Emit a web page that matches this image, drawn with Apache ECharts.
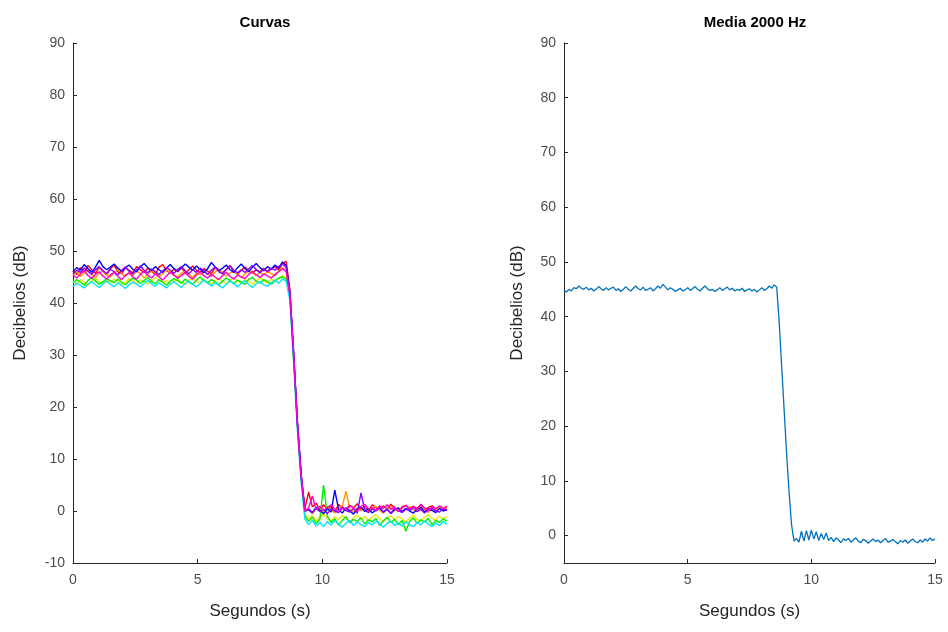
<!DOCTYPE html>
<html><head><meta charset="utf-8">
<script src="https://cdn.jsdelivr.net/npm/echarts@6/dist/echarts.min.js"></script>
<style>html,body{margin:0;padding:0;background:#fff}#c{width:948px;height:632px}</style>
</head><body><div id="c"></div>
<script>
// Sample spacing (s) of the recordings
const dtCurvas = 0.15;
const dtMedia = 0.1;

const xTicks = [0, 5, 10, 15];
const yTicksLeft = [-10, 0, 10, 20, 30, 40, 50, 60, 70, 80, 90];
const yTicksRight = [0, 10, 20, 30, 40, 50, 60, 70, 80, 90];

const curvaRed = [46.2,45.5,46.8,45.9,47.2,46.4,45.7,46.9,46.1,45.4,46.6,47.3,46.0,45.6,46.8,46.3,45.8,47.0,46.4,45.9,46.7,46.1,45.5,46.9,47.4,46.2,45.8,46.5,46.0,46.8,45.7,46.4,47.1,46.3,45.9,46.6,46.1,45.6,46.9,46.4,45.8,46.5,47.2,46.0,45.6,46.3,46.9,46.2,45.7,46.4,46.0,46.7,45.9,46.5,47.0,46.3,47.6,48.0,
42.5,30.0,17.5,7.0,0.5,
3.6,0.8,1.5,0.2,1.2,0.4,0.9,-0.2,1.3,0.5,0.1,1.1,0.6,1.4,0.3,0.9,0.0,1.2,0.7,0.2,1.0,0.4,1.3,0.6,-0.1,0.8,1.1,0.3,0.9,0.5,1.2,0.2,0.7,1.0,0.4,0.8,0.3,0.9];
const curvaOrange = [45.3,46.0,45.1,45.8,46.3,45.5,44.9,45.7,46.2,45.4,45.0,45.9,46.4,45.6,45.2,45.8,45.3,46.1,45.7,44.8,45.5,46.2,45.8,45.1,45.6,46.4,45.9,45.3,45.0,45.7,46.3,45.5,44.9,45.8,45.4,46.0,45.6,45.1,45.9,46.5,45.7,45.2,45.8,46.1,45.5,44.9,45.6,46.2,45.8,45.3,45.9,45.4,46.0,45.7,45.2,46.1,46.8,46.3,
41.5,29.5,16.5,6.5,0.0,
0.3,-0.5,0.6,0.1,-0.3,0.8,0.2,-0.4,0.5,0.9,3.8,0.4,-0.2,0.6,0.0,0.7,-0.3,0.4,0.9,0.1,-0.4,0.5,0.8,0.0,0.6,-0.2,0.3,0.9,0.2,-0.1,0.7,0.4,-0.3,0.5,0.1,0.8,0.3,0.6];
const curvaYellow = [44.2,43.6,44.5,44.0,43.4,44.3,44.8,44.1,43.7,44.4,43.9,44.6,44.2,43.5,44.0,44.7,44.3,43.8,44.5,44.1,43.6,44.2,44.9,44.4,43.9,44.3,43.7,44.1,44.6,44.0,43.5,44.4,44.8,44.2,43.8,44.5,44.0,43.6,44.3,44.7,44.1,43.7,44.4,44.9,44.2,43.8,44.5,44.1,43.6,44.3,44.8,44.2,43.9,44.6,44.1,44.7,45.3,44.8,
41.0,29.0,16.0,6.0,-0.5,
-1.6,-0.8,-1.9,-1.2,-0.6,-1.5,-2.0,-1.1,-1.7,-0.9,-1.4,-2.1,-1.3,-0.8,-1.6,-1.0,-1.8,-1.2,-0.7,-1.5,-2.0,-1.3,-0.9,-1.7,-1.1,-1.5,-2.2,-1.4,-0.8,-1.6,-1.9,-1.2,-0.7,-1.4,-1.8,-1.0,-1.5,-1.1];
const curvaGreen = [43.8,44.5,44.0,43.4,44.3,44.9,44.2,43.6,44.1,44.7,44.3,43.9,44.6,44.0,43.5,44.2,44.8,44.4,43.8,44.3,44.9,44.1,43.7,44.5,44.0,43.4,44.2,44.7,44.3,43.8,44.6,44.0,43.6,44.4,45.0,44.3,43.9,44.5,44.1,43.5,44.2,44.8,44.3,43.7,44.4,44.0,43.6,44.6,44.9,44.2,43.8,44.5,44.1,43.6,44.3,44.8,45.0,44.6,
41.0,29.0,16.5,6.5,-1.0,
-2.0,-1.2,-2.4,-1.6,5.0,-1.0,-2.2,-1.5,-2.7,-1.8,-1.1,-2.3,-1.6,-2.0,-1.3,-2.5,-1.7,-2.1,-1.4,-2.8,-1.9,-1.2,-2.2,-1.6,-2.6,-1.8,-3.9,-2.0,-1.3,-2.4,-1.7,-2.1,-1.4,-2.6,-1.8,-2.2,-1.5,-2.0];
const curvaCyan = [43.2,43.8,43.4,42.9,43.6,44.1,43.5,43.0,43.7,44.2,43.6,43.1,43.9,43.4,42.8,43.5,44.0,43.6,43.1,43.8,44.3,43.7,43.2,43.9,43.4,42.9,43.6,44.1,43.5,43.0,43.8,44.2,43.6,43.1,43.7,44.4,43.8,43.3,43.9,43.4,42.9,43.6,44.2,43.7,43.1,43.8,44.3,43.5,43.0,43.7,44.1,43.5,43.2,43.9,44.4,43.8,44.6,44.2,
40.5,28.5,15.5,5.5,-1.5,
-2.6,-1.8,-2.9,-2.2,-3.0,-2.0,-2.7,-1.9,-2.5,-3.1,-2.3,-1.8,-2.8,-2.1,-2.6,-3.0,-2.2,-2.7,-1.9,-2.5,-3.1,-2.4,-2.0,-2.8,-2.3,-2.9,-2.1,-2.6,-3.0,-2.2,-2.7,-1.9,-2.5,-3.0,-2.3,-2.8,-2.0,-2.6];
const curvaBlue = [46.0,46.8,46.3,47.4,46.6,45.9,46.9,48.2,47.0,46.4,46.9,47.5,46.7,46.1,46.8,47.3,46.5,46.0,46.9,47.6,46.8,46.2,47.0,46.4,45.9,46.7,47.4,46.6,46.1,46.8,47.5,46.9,46.3,47.1,46.5,45.8,46.6,47.8,46.9,46.2,46.7,47.3,46.4,45.9,46.8,47.5,46.6,46.0,46.9,47.6,46.8,46.2,47.0,46.5,47.3,46.7,47.9,47.2,
42.0,30.5,17.0,7.0,0.0,
0.4,-0.3,0.7,0.1,-0.5,0.5,-0.2,4.0,0.3,-0.4,0.6,0.0,-0.6,0.4,0.8,-0.1,0.5,-0.4,0.2,0.7,-0.2,0.4,-0.5,0.3,0.6,-0.1,0.5,0.0,-0.4,0.3,0.7,-0.2,0.4,0.1,-0.3,0.5,0.0,0.3];
const curvaPurple = [45.6,46.3,45.9,46.7,46.1,45.5,46.4,47.0,46.2,45.7,46.5,46.0,45.4,46.3,46.9,46.1,45.6,46.4,47.1,46.3,45.8,46.6,46.0,45.5,46.2,46.8,46.3,45.7,46.5,47.0,46.2,45.6,46.4,45.9,46.7,46.2,45.5,46.3,46.9,46.0,45.6,46.5,47.1,46.3,45.8,46.4,45.9,46.6,47.2,46.4,45.8,46.5,46.1,46.7,46.3,47.0,47.5,46.9,
42.0,30.0,17.0,7.0,0.0,
0.2,-0.4,0.5,-0.1,0.3,-0.5,0.4,0.0,-0.3,0.6,0.1,-0.2,0.5,-0.4,3.5,0.2,-0.3,0.4,0.0,0.6,-0.2,0.3,-0.4,0.5,0.1,-0.3,0.4,0.0,0.7,-0.1,0.3,-0.4,0.2,0.5,0.0,-0.2,0.4,0.1];
const curvaMagenta = [45.4,44.8,45.6,46.2,45.3,44.7,45.5,46.0,45.2,44.6,45.4,45.9,45.1,44.5,45.3,45.8,45.0,44.6,45.5,46.1,45.3,44.8,45.6,45.0,44.4,45.2,45.9,45.4,44.7,45.3,45.8,45.1,44.6,45.4,46.0,45.2,44.8,45.5,45.0,44.5,45.3,45.9,45.1,44.6,45.4,45.0,44.7,45.5,46.1,45.4,44.9,45.6,45.2,44.8,45.5,46.0,46.6,46.0,
41.5,30.0,16.5,6.5,0.0,
0.6,2.9,0.3,0.9,0.1,0.7,1.2,0.4,-0.1,0.8,0.3,1.1,0.5,0.0,0.9,1.3,0.4,0.7,0.1,1.0,0.5,1.2,0.3,0.8,-0.1,0.6,1.1,0.4,0.9,0.2,1.3,0.6,0.0,0.8,0.4,1.0,0.5,0.9];

const media2000 = [44.8,44.5,45.0,44.7,45.3,45.1,45.6,45.2,45.0,45.4,
44.9,45.2,44.7,45.0,45.5,45.1,44.8,45.3,44.9,45.2,
45.4,44.8,45.1,44.6,45.0,45.5,45.0,44.7,45.2,45.6,
45.1,44.9,45.4,44.8,45.0,45.3,44.7,45.1,45.6,45.2,
45.9,45.4,44.9,45.3,45.0,44.6,44.9,45.2,44.7,44.9,
45.3,44.8,45.1,45.5,45.0,44.7,45.2,45.6,45.1,44.8,
45.0,44.6,44.9,45.3,44.8,45.1,45.4,44.9,45.2,44.7,
45.0,44.8,45.2,44.6,44.9,45.1,44.7,45.0,44.5,44.9,
45.3,44.8,45.1,45.6,45.2,45.8,45.4,
39.0,31.0,23.0,15.0,8.0,2.0,-1.0,
-0.5,-1.2,0.8,-1.0,0.9,-0.8,1.0,-0.6,0.7,-0.9,
0.4,-0.7,0.5,-0.9,-0.3,-1.1,-0.4,-0.8,-1.3,-0.6,
-0.9,-0.5,-1.2,-0.8,-0.4,-1.0,-1.3,-0.7,-0.9,-1.4,
-1.0,-0.6,-1.1,-0.8,-1.3,-0.9,-0.5,-1.2,-1.0,-0.7,
-1.1,-1.5,-0.9,-1.2,-0.8,-1.4,-1.0,-0.6,-1.1,-1.3,
-0.8,-1.2,-0.6,-1.0,-0.4,-0.9,-0.6];

const curvas = [
  {name: 'R', color: '#ff0000', data: curvaRed},
  {name: 'O', color: '#ff9900', data: curvaOrange},
  {name: 'Y', color: '#e8e800', data: curvaYellow},
  {name: 'G', color: '#00ee00', data: curvaGreen},
  {name: 'C', color: '#00e5ff', data: curvaCyan},
  {name: 'B', color: '#0000ff', data: curvaBlue},
  {name: 'P', color: '#8a00ff', data: curvaPurple},
  {name: 'M', color: '#ff00cc', data: curvaMagenta}
];

function pairs(arr, dt) {
  return arr.map((v, i) => [+(i * dt).toFixed(3), v]);
}

const axisColor = '#262626';
const labelColor = '#4d4d4d';
const fontFam = 'Liberation Sans, Arial, sans-serif';

function xAx(idx) {
  return {
    type: 'value', gridIndex: idx, min: 0, max: 15, interval: 5,
    name: 'Segundos (s)', nameLocation: 'middle', nameGap: 40,
    nameTextStyle: {fontSize: 17, color: axisColor, fontFamily: fontFam},
    axisLine: {show: true, onZero: false, lineStyle: {color: axisColor, width: 1}},
    axisTick: {show: true, inside: true, length: 4, lineStyle: {color: axisColor},
               customValues: xTicks},
    axisLabel: {fontSize: 14, color: labelColor, fontFamily: fontFam, margin: 10,
                customValues: xTicks},
    splitLine: {show: false}
  };
}

const option = {
  animation: false,
  backgroundColor: '#ffffff',
  title: [
    {text: 'Curvas', left: 260, top: 10, textAlign: 'center',
     textStyle: {fontSize: 15, fontWeight: 'bold', color: '#000', fontFamily: fontFam}},
    {text: 'Media 2000 Hz', left: 750, top: 10, textAlign: 'center',
     textStyle: {fontSize: 15, fontWeight: 'bold', color: '#000', fontFamily: fontFam}}
  ],
  grid: [
    {left: 73, right: 501, top: 43, bottom: 69},
    {left: 564, right: 13, top: 43, bottom: 69}
  ],
  xAxis: [xAx(0), xAx(1)],
  yAxis: [
    {
      type: 'value', gridIndex: 0, min: -10, max: 90, interval: 10,
      name: 'Decibelios (dB)', nameLocation: 'middle', nameGap: 44,
      nameTextStyle: {fontSize: 17, color: axisColor, fontFamily: fontFam},
      axisLine: {show: true, onZero: false, lineStyle: {color: axisColor, width: 1}},
      axisTick: {show: true, inside: true, length: 4, lineStyle: {color: axisColor},
                 customValues: yTicksLeft},
      axisLabel: {fontSize: 14, color: labelColor, fontFamily: fontFam, margin: 8,
                  customValues: yTicksLeft},
      splitLine: {show: false}
    },
    {
      type: 'value', gridIndex: 1, min: -5, max: 90,
      name: 'Decibelios (dB)', nameLocation: 'middle', nameGap: 38,
      nameTextStyle: {fontSize: 17, color: axisColor, fontFamily: fontFam},
      axisLine: {show: true, onZero: false, lineStyle: {color: axisColor, width: 1}},
      axisTick: {show: true, inside: true, length: 4, lineStyle: {color: axisColor},
                 customValues: yTicksRight},
      axisLabel: {fontSize: 14, color: labelColor, fontFamily: fontFam, margin: 8,
                  customValues: yTicksRight},
      splitLine: {show: false}
    }
  ],
  series: curvas.map(c => ({
    type: 'line', name: c.name, xAxisIndex: 0, yAxisIndex: 0,
    data: pairs(c.data, dtCurvas), showSymbol: false, symbol: 'none',
    lineStyle: {color: c.color, width: 1.4}, itemStyle: {color: c.color}
  })).concat([{
    type: 'line', name: 'Media', xAxisIndex: 1, yAxisIndex: 1,
    data: pairs(media2000, dtMedia), showSymbol: false, symbol: 'none',
    lineStyle: {color: '#0072bd', width: 1.3}, itemStyle: {color: '#0072bd'}
  }])
};

const chart = echarts.init(document.getElementById('c'), null, {renderer: 'canvas'});
chart.setOption(option);
</script>
</body></html>
